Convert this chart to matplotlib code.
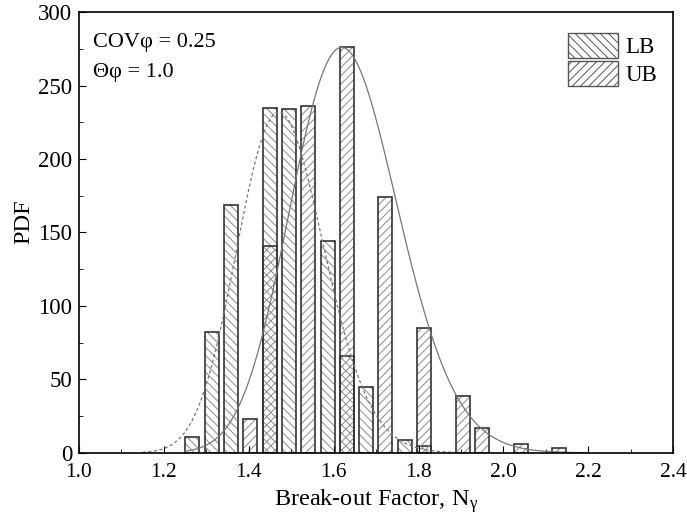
import numpy as np
import matplotlib
matplotlib.use('Agg')
import matplotlib.pyplot as plt
from matplotlib.patches import Patch
from matplotlib.ticker import MultipleLocator

plt.rcParams['font.family'] = ['Liberation Serif', 'DejaVu Serif']
plt.rcParams['hatch.linewidth'] = 0.7
plt.rcParams['mathtext.fontset'] = 'stix'

# Histogram bins (centres) and heights
bin_centers = [1.267, 1.3125, 1.358, 1.4035, 1.449, 1.4945, 1.540, 1.5855, 1.631, 1.6765,
               1.722, 1.7675, 1.813, 1.8585, 1.904, 1.9495, 1.995, 2.0405, 2.086, 2.1315]
lb_pdf = [11, 82, 169, 0, 235, 234, 0, 144, 66, 45, 0, 9, 5, 0, 0, 0, 0, 0, 0, 0]
ub_pdf = [0, 0, 0, 23, 141, 0, 236, 0, 276, 0, 174, 0, 85, 0, 39, 17, 0, 6, 0, 3]
bar_width = 0.033

# Fitted lognormal curves (mode, log-sd, peak height)
lb_mode, lb_sig, lb_peak = 1.471, 0.069, 232
ub_mode, ub_sig, ub_peak = 1.619, 0.078, 276

fig = plt.figure(figsize=(6.87, 5.26), dpi=100)
ax = fig.add_axes([0.115, 0.139, 0.865, 0.838])

hatch_col = '#8a8a8a'
edge_col = '#333333'


def draw_bars(heights, hatch):
    xs = [x for x, h in zip(bin_centers, heights) if h > 0]
    hs = [h for h in heights if h > 0]
    ax.bar(xs, hs, width=bar_width, facecolor='none', edgecolor=hatch_col,
           hatch=hatch, linewidth=0)
    ax.bar(xs, hs, width=bar_width, facecolor='none', edgecolor=edge_col,
           linewidth=1.2)


draw_bars(lb_pdf, '\\\\\\\\')
draw_bars(ub_pdf, '////')

x_lb = np.linspace(1.15, 1.9, 300)
y_lb = lb_peak * np.exp(-np.log(x_lb / lb_mode) ** 2 / (2 * lb_sig ** 2))
ax.plot(x_lb, y_lb, color='#777777', linestyle=(0, (2.5, 2)), linewidth=0.9)

x_ub = np.linspace(1.25, 2.2, 300)
y_ub = ub_peak * np.exp(-np.log(x_ub / ub_mode) ** 2 / (2 * ub_sig ** 2))
ax.plot(x_ub, y_ub, color='#777777', linestyle='-', linewidth=0.9)

ax.set_xlim(1.0, 2.4)
ax.set_ylim(0, 300)
ax.xaxis.set_major_locator(MultipleLocator(0.2))
ax.xaxis.set_minor_locator(MultipleLocator(0.1))
ax.yaxis.set_major_locator(MultipleLocator(50))
ax.yaxis.set_minor_locator(MultipleLocator(25))
ax.xaxis.set_major_formatter(matplotlib.ticker.FormatStrFormatter('%.1f'))
ax.tick_params(which='both', direction='in', top=False, right=False)
ax.tick_params(axis='x', labelsize=15.5, pad=7)
ax.tick_params(axis='y', labelsize=16.5, pad=5)
ax.tick_params(which='major', length=5)
ax.tick_params(which='minor', length=3)
for s in ax.spines.values():
    s.set_linewidth(1.2)

ax.set_xlabel(r'Break-out Factor, N$_\mathregular{γ}$', fontsize=17.5, labelpad=4)
ax.set_ylabel('PDF', fontsize=17.5)
ax.yaxis.set_label_coords(-0.076, 0.524)

ax.text(0.023, 0.932, 'COVφ = 0.25', transform=ax.transAxes, fontsize=16, va='center')
ax.text(0.023, 0.862, 'Θφ = 1.0', transform=ax.transAxes, fontsize=16, va='center')

handles = [Patch(facecolor='white', edgecolor='#555555', hatch='\\\\\\\\', linewidth=1),
           Patch(facecolor='white', edgecolor='#555555', hatch='////', linewidth=1)]
ax.legend(handles, ['LB', 'UB'], loc='upper right', frameon=False, fontsize=16.5,
          handlelength=2.2, handleheight=1.35, labelspacing=0.1, handletextpad=0.3,
          borderaxespad=0.3, bbox_to_anchor=(1.0, 0.99))

fig.savefig('out.png', dpi=100)
